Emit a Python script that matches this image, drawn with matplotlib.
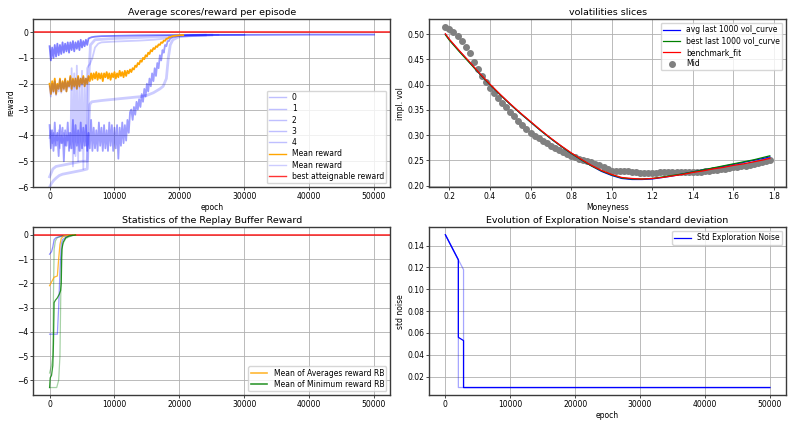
import numpy as np
import matplotlib
matplotlib.use("Agg")
import matplotlib.pyplot as plt

# ---------------- data: panel 1 (rewards per episode) ----------------
step = 200  # epoch spacing of the noisy samples

run0_noisy = [-0.55, -1.1, -0.6, -1.0, -0.5, -0.95, -0.45, -0.9, -0.5, -0.85, -0.4, -0.8, -0.45, -0.75, -0.4,
              -0.8, -0.4, -0.7, -0.35, -0.75, -0.4, -0.65, -0.35, -0.7, -0.3, -0.6, -0.35, -0.55, -0.3, -0.5]
run0_tail_x = [6000, 6500, 7000, 8000, 10000, 14000, 18000, 22000, 30000, 40000, 50000]
run0_tail_y = [-0.25, -0.2, -0.18, -0.16, -0.15, -0.13, -0.12, -0.11, -0.11, -0.1, -0.1]

run1_noisy = [-3.6, -4.5, -3.8, -4.6, -3.5, -4.4, -3.9, -4.8, -3.6, -4.3, -3.7, -5.0, -3.8, -4.4, -3.5, -4.6,
              -3.9, -4.5, -3.4, -4.7, -3.6, -4.4, -3.8, -4.6, -3.5, -4.5, -3.7, -4.4, -3.6, -4.6, -3.9, -4.5,
              -3.4, -4.6, -3.7, -4.5, -3.8, -4.6, -3.5, -4.4, -3.7, -4.6, -3.6, -4.5, -3.8, -4.6, -3.5, -4.4,
              -3.6, -4.6, -3.7, -4.5, -3.6, -4.9, -3.7, -4.4, -3.5, -4.3, -3.6, -4.2, -3.4, -3.9, -3.1,
              -3.0, -3.4, -2.9, -3.2, -2.7, -3.0, -2.6, -2.9, -2.4, -2.7, -2.2, -2.5, -2.0, -2.3, -1.8, -2.1,
              -1.6, -1.9, -1.4, -1.7, -1.2, -1.4, -0.9, -1.1, -0.7, -0.8, -0.5, -0.55, -0.35, -0.35, -0.25,
              -0.22, -0.18]
run1_tail_x = [20000, 25000, 30000]
run1_tail_y = [-0.15, -0.12, -0.11]

run2_x = [0, 300, 600, 1000, 1500, 2000, 3000, 4000, 5000, 5800, 6000, 6200, 6500, 8000, 10000, 12000, 14000,
          15000, 16000, 17000, 17500, 18000, 18300, 18600, 19000, 20000, 22000, 25000]
run2_y = [-6.0, -5.85, -5.75, -5.65, -5.55, -5.5, -5.45, -5.4, -5.35, -5.3, -4.0, -2.8, -2.7, -2.65, -2.6,
          -2.55, -2.5, -2.45, -2.35, -2.2, -2.1, -1.8, -1.0, -0.5, -0.3, -0.18, -0.14, -0.12]

run3_noisy = [-4.1, -3.8, -4.3, -3.9, -4.4, -4.0, -4.2, -3.8, -4.5, -4.0, -4.3, -3.9, -4.4, -4.0, -4.2, -3.9,
              -4.5, -1.4, -5.2, -1.6, -4.8, -1.3, -5.0, -2.0, -4.6, -1.5, -5.3, -1.8, -4.4, -1.4, -1.3]
run3_tail_x = [6200, 6600, 7000, 7500, 8000, 10000, 12000, 14000, 16000, 18000, 19000, 20000, 22000, 26000]
run3_tail_y = [-1.25, -1.0, -0.6, -0.45, -0.4, -0.37, -0.35, -0.33, -0.3, -0.25, -0.2, -0.15, -0.12, -0.11]

run4_x = [0, 500, 1000, 2000, 3000, 4000, 5000, 5800, 6000, 6300, 7000, 10000, 15000, 20000, 24000]
run4_y = [-5.6, -5.3, -5.2, -5.15, -5.1, -5.05, -5.0, -5.0, -2.0, -0.5, -0.3, -0.25, -0.2, -0.15, -0.12]

mean_noisy = [-2.0, -2.4, -1.9, -2.3, -1.8, -2.4, -2.0, -2.2, -1.8, -2.3, -1.9, -2.2, -1.8, -2.3, -1.9, -2.1,
              -1.7, -2.2, -1.8, -2.1, -1.8, -2.2, -1.7, -2.1, -1.8, -2.0, -1.7, -2.1, -1.8, -2.0, -1.7,
              -1.9, -1.6, -1.85, -1.6, -1.8, -1.55, -1.85, -1.6, -1.8, -1.6, -1.9, -1.6, -1.75, -1.55, -1.8,
              -1.6, -1.85, -1.6, -1.75, -1.55, -1.8, -1.6, -1.75, -1.5, -1.7, -1.55, -1.75, -1.5, -1.7, -1.5,
              -1.6, -1.45, -1.55, -1.4, -1.45, -1.3, -1.35, -1.2, -1.25, -1.1, -1.15, -1.0, -1.05, -0.9, -0.95,
              -0.8, -0.85, -0.7, -0.75, -0.62, -0.66, -0.55, -0.58, -0.48, -0.5, -0.4, -0.42, -0.33, -0.34,
              -0.26, -0.26, -0.2, -0.2, -0.17, -0.16, -0.15, -0.14, -0.14, -0.13, -0.13, -0.12, -0.12, -0.12]

# second (blue) mean curve, only over the first 6000 epochs
mean_blue = [-2.1, -2.5, -2.0, -2.35, -1.9, -2.45, -2.05, -2.3, -1.85, -2.35, -1.95, -2.25, -1.85, -2.3,
             -1.95, -2.15, -1.75, -2.25, -1.85, -2.15, -1.8, -2.2, -1.75, -2.15, -1.8, -2.05, -1.75, -2.1,
             -1.8, -2.0, -1.75]

# ---------------- data: panel 2 (vol slices) ----------------
mid_x = [0.18, 0.20, 0.22, 0.24, 0.26, 0.28, 0.30, 0.32, 0.34, 0.36, 0.38, 0.40, 0.42, 0.44, 0.46, 0.48,
         0.50, 0.52, 0.54, 0.56, 0.58, 0.60, 0.62, 0.64, 0.66, 0.68, 0.70, 0.72, 0.74, 0.76, 0.78, 0.80,
         0.82, 0.84, 0.86, 0.88, 0.90, 0.92, 0.94, 0.96, 0.98, 1.00, 1.02, 1.04, 1.06, 1.08, 1.10, 1.12,
         1.14, 1.16, 1.18, 1.20, 1.22, 1.24, 1.26, 1.28, 1.30, 1.32, 1.34, 1.36, 1.38, 1.40, 1.42, 1.44,
         1.46, 1.48, 1.50, 1.52, 1.54, 1.56, 1.58, 1.60, 1.62, 1.64, 1.66, 1.68, 1.70, 1.72, 1.74, 1.76, 1.78]
mid_y = [0.515, 0.510, 0.504, 0.496, 0.486, 0.475, 0.462, 0.446, 0.432, 0.418, 0.405, 0.393, 0.383, 0.373,
         0.364, 0.355, 0.346, 0.337, 0.328, 0.320, 0.312, 0.305, 0.299, 0.294, 0.289, 0.284, 0.279, 0.275,
         0.271, 0.267, 0.263, 0.259, 0.256, 0.253, 0.250, 0.248, 0.246, 0.243, 0.240, 0.236, 0.232, 0.229,
         0.229, 0.229, 0.229, 0.228, 0.227, 0.226, 0.225, 0.225, 0.225, 0.225, 0.225, 0.226, 0.226, 0.226,
         0.226, 0.226, 0.226, 0.226, 0.226, 0.226, 0.227, 0.227, 0.228, 0.229, 0.230, 0.231, 0.232, 0.233,
         0.234, 0.236, 0.237, 0.238, 0.239, 0.241, 0.242, 0.244, 0.246, 0.248, 0.250]

fit_x = [0.18, 0.20, 0.25, 0.30, 0.35, 0.40, 0.45, 0.50, 0.55, 0.60, 0.65, 0.70, 0.75, 0.80, 0.85, 0.90,
         0.95, 1.00, 1.05, 1.10, 1.15, 1.20, 1.25, 1.30, 1.35, 1.40, 1.45, 1.50, 1.55, 1.60, 1.65, 1.70,
         1.75, 1.78]
bench_y = [0.501, 0.490, 0.467, 0.445, 0.422, 0.401, 0.381, 0.362, 0.344, 0.327, 0.310, 0.294, 0.279,
           0.265, 0.252, 0.240, 0.230, 0.222, 0.216, 0.214, 0.213, 0.214, 0.216, 0.219, 0.222, 0.226,
           0.229, 0.233, 0.236, 0.240, 0.243, 0.247, 0.251, 0.254]
best_y = [0.499, 0.488, 0.465, 0.443, 0.421, 0.400, 0.380, 0.361, 0.343, 0.326, 0.309, 0.293, 0.278,
          0.264, 0.251, 0.239, 0.229, 0.221, 0.215, 0.213, 0.213, 0.214, 0.217, 0.220, 0.223, 0.227,
          0.231, 0.235, 0.239, 0.243, 0.247, 0.251, 0.256, 0.259]
avg_y = [0.500, 0.489, 0.466, 0.444, 0.421, 0.400, 0.380, 0.361, 0.343, 0.326, 0.309, 0.293, 0.278,
         0.264, 0.251, 0.239, 0.228, 0.220, 0.214, 0.212, 0.212, 0.213, 0.216, 0.219, 0.223, 0.227,
         0.231, 0.234, 0.238, 0.242, 0.246, 0.250, 0.254, 0.257]

# ---------------- data: panel 3 (replay buffer) ----------------
rb_avg_x = [0, 300, 700, 1000, 1200, 1400, 1600, 1800, 2200, 3000, 4000]
rb_avg_y = [-2.1, -1.95, -1.75, -1.72, -1.7, -1.0, -0.4, -0.15, -0.05, -0.02, -0.01]
rb_min_x = [0, 100, 300, 400, 500, 600, 700, 900, 1200, 1500, 1700, 1800, 1900, 2100, 2500, 3000, 4000]
rb_min_y = [-6.3, -5.9, -5.8, -5.6, -5.4, -4.5, -2.8, -2.7, -2.6, -2.45, -2.3, -2.0, -0.6, -0.3, -0.12, -0.05, -0.01]
rb_blue1_x = [0, 300, 500, 700, 1000, 1500, 2500, 3500]
rb_blue1_y = [-0.8, -0.7, -0.5, -0.2, -0.12, -0.08, -0.05, -0.02]
rb_blue2_x = [0, 1200, 1400, 1600, 1800, 2000, 2500, 3000, 3800]
rb_blue2_y = [-4.1, -4.1, -3.0, -1.5, -0.4, -0.2, -0.1, -0.05, -0.02]
rb_green1_x = [0, 1100, 1400, 1600, 1700, 1800, 2000, 2500, 3500, 4000]
rb_green1_y = [-6.3, -6.3, -6.0, -5.0, -3.0, -1.0, -0.4, -0.15, -0.03, -0.01]
rb_green2_x = [0, 300, 500, 600, 700, 900, 1200, 1800, 2500, 3500]
rb_green2_y = [-5.7, -5.4, -5.0, -2.5, -0.6, -0.25, -0.12, -0.06, -0.03, -0.01]

# ---------------- data: panel 4 (exploration noise) ----------------
noise_x = [0, 2000, 2000, 2800, 2800, 50000]
noise_y = [0.15, 0.127, 0.056, 0.053, 0.01, 0.01]
noise_a_x = [0, 2000, 2000, 50000]
noise_a_y = [0.15, 0.127, 0.01, 0.01]
noise_b_x = [0, 2800, 2800, 50000]
noise_b_y = [0.15, 0.118, 0.01, 0.01]

# ---------------- style ----------------
fs = 5.5
plt.rcParams.update({
    "font.size": fs,
    "axes.titlesize": 6.8,
    "axes.labelsize": fs,
    "xtick.labelsize": fs,
    "ytick.labelsize": fs,
    "legend.fontsize": fs,
    "axes.linewidth": 1.0,
    "axes.edgecolor": "#3a3a3a",
    "xtick.major.size": 2,
    "ytick.major.size": 2,
    "xtick.major.width": 0.5,
    "ytick.major.width": 0.5,
    "xtick.major.pad": 1.5,
    "ytick.major.pad": 1.5,
    "axes.titlepad": 3,
    "axes.labelpad": 1.5,
    "legend.borderpad": 0.3,
    "legend.labelspacing": 0.3,
    "legend.handlelength": 2.2,
})

fig, axes = plt.subplots(2, 2, figsize=(7.94, 4.24), dpi=100)
plt.subplots_adjust(left=0.042, right=0.990, top=0.955, bottom=0.068, wspace=0.109, hspace=0.238)
lw = 0.9
nlw = 1.3  # noisy curves

# panel 1
ax = axes[0, 0]
x0 = step * np.arange(len(run0_noisy))
ax.plot(list(x0) + run0_tail_x, run0_noisy + run0_tail_y, color="blue", alpha=0.5, lw=nlw, label="0")
x1 = step * np.arange(len(run1_noisy))
ax.plot(list(x1) + run1_tail_x, run1_noisy + run1_tail_y, color="blue", alpha=0.38, lw=nlw, label="1")
ax.plot(run2_x, run2_y, color="blue", alpha=0.2, lw=2.0, label="2")
x3 = step * np.arange(len(run3_noisy))
ax.plot(list(x3) + run3_tail_x, run3_noisy + run3_tail_y, color="blue", alpha=0.2, lw=nlw, label="3")
ax.plot(run4_x, run4_y, color="blue", alpha=0.2, lw=2.0, label="4")
xm = step * np.arange(len(mean_noisy))
ax.plot(xm, mean_noisy, color="orange", lw=nlw, label="Mean reward")
xb = step * np.arange(len(mean_blue))
ax.plot(xb, mean_blue, color="blue", alpha=0.2, lw=nlw, label="Mean reward")
ax.axhline(0, color="red", alpha=0.8, lw=1.2, label="best atteignable reward")
ax.set_xlim(-2500, 52500)
ax.set_ylim(-6, 0.5)
ax.set_title("Average scores/reward per episode")
ax.set_xlabel("epoch")
ax.set_ylabel("reward")
leg = ax.legend(loc="lower right")
for i, h in enumerate(leg.get_lines()):
    h.set_linewidth(1.0)
    if i < 5:
        h.set_alpha(0.25)

# panel 2
ax = axes[0, 1]
ax.plot(fit_x, avg_y, color="blue", lw=lw, label="avg last 1000 vol_curve")
ax.plot(fit_x, best_y, color="green", lw=lw, label="best last 1000 vol_curve")
ax.plot(fit_x, bench_y, color="red", lw=lw, label="benchmark_fit")
ax.scatter(mid_x, mid_y, color="grey", s=16, label="Mid", zorder=1)
ax.set_title("volatilities slices")
ax.set_xlabel("Moneyness")
ax.set_ylabel("impl. vol")
ax.legend(loc="upper right")

# panel 3
ax = axes[1, 0]
ax.axhline(0, color="red", alpha=0.8, lw=1.2)
ax.plot(rb_blue1_x, rb_blue1_y, color="blue", alpha=0.45, lw=lw)
ax.plot(rb_blue2_x, rb_blue2_y, color="blue", alpha=0.4, lw=lw)
ax.plot(rb_green1_x, rb_green1_y, color="green", alpha=0.35, lw=lw)
ax.plot(rb_green2_x, rb_green2_y, color="green", alpha=0.35, lw=lw)
ax.plot(rb_avg_x, rb_avg_y, color="orange", alpha=0.8, lw=lw, label="Mean of Averages reward RB")
ax.plot(rb_min_x, rb_min_y, color="green", alpha=0.8, lw=lw, label="Mean of Minimum reward RB")
ax.set_xlim(-2500, 52500)
ax.set_title("Statistics of the Replay Buffer Reward")
leg = ax.legend(loc="lower right")
for h in leg.get_lines():
    h.set_linewidth(1.2)

# panel 4
ax = axes[1, 1]
ax.plot(noise_a_x, noise_a_y, color="blue", alpha=0.35, lw=lw)
ax.plot(noise_b_x, noise_b_y, color="blue", alpha=0.35, lw=lw)
ax.plot(noise_x, noise_y, color="blue", lw=lw, label="Std Exploration Noise")
ax.set_title("Evolution of Exploration Noise's standard deviation")
ax.set_xlabel("epoch")
ax.set_ylabel("std noise")
ax.legend(loc="upper right")

for a in axes.flat:
    a.grid(True, color="#b0b0b0", lw=0.6)
    a.set_axisbelow(True)

plt.savefig("out.png", dpi=100)
